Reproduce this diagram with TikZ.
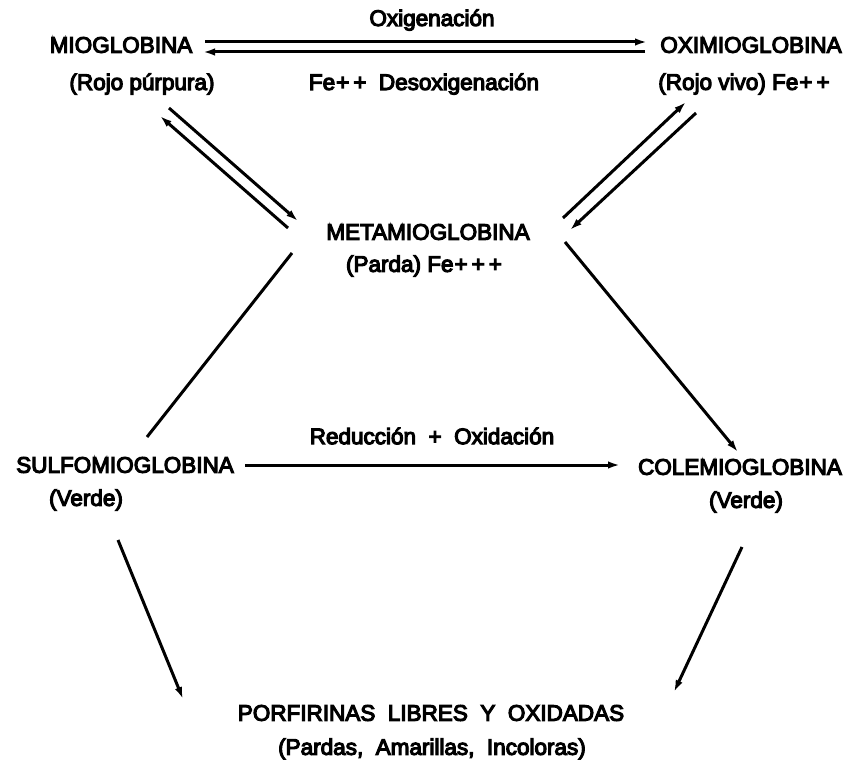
\documentclass[tikz,border=0pt]{standalone}
\usepackage{fontspec}
\setmainfont[FakeBold=5]{Liberation Sans}
\usetikzlibrary{arrows.meta}
\newcommand{\plusplus}{\kern1pt+\kern4pt+}
\newcommand{\plusplusplus}{\kern1pt+\kern4pt+\kern4pt+}
\tikzset{
  lbl/.style={inner sep=0pt, font=\fontsize{22.5}{26}\selectfont},
  conn/.style={line width=3pt},
  arr/.style={conn, -{Latex[length=12pt,width=7.5pt]}}
}
\begin{document}
\begin{tikzpicture}[x=1pt,y=-1pt]
\useasboundingbox[fill=white] (0,0) rectangle (852,760);
% labels
\node[lbl] (oxig) at (432,20) {Oxigenación};
\node[lbl] (mio) at (121,45) {MIOGLOBINA};
\node[lbl] (mioc) at (142,84) {(Rojo púrpura)};
\node[lbl] (oxi) at (751,45) {OXIMIOGLOBINA};
\node[lbl] (oxic) at (744,84) {(Rojo vivo) Fe\plusplus};
\node[lbl] (desox) at (424,84) {Fe\plusplus\ \ Desoxigenación};
\node[lbl] (meta) at (428,232) {METAMIOGLOBINA};
\node[lbl] (metac) at (424,266) {(Parda) Fe\plusplusplus};
\node[lbl] (red) at (432,436) {Reducción \ + \ Oxidación};
\node[lbl] (sulfo) at (125,465) {SULFOMIOGLOBINA};
\node[lbl] (sulfoc) at (86,500) {(Verde)};
\node[lbl] (cole) at (740,467) {COLEMIOGLOBINA};
\node[lbl] (colec) at (746,502) {(Verde)};
\node[lbl] (porf) at (431,713) {PORFIRINAS \ LIBRES \ Y \ OXIDADAS};
\node[lbl] (porfc) at (432,749) {(Pardas, \ Amarillas, \ Incoloras)};
% connector end points
\coordinate (t1a) at (205,42); \coordinate (t1b) at (647,42);
\coordinate (t2a) at (645,52); \coordinate (t2b) at (203,52);
\coordinate (la) at (169,108); \coordinate (lb) at (298,221);
\coordinate (lc) at (288,228); \coordinate (ld) at (160,116);
\coordinate (ra) at (563,218); \coordinate (rb) at (686,102);
\coordinate (rc) at (696,113); \coordinate (rd) at (570,230);
\coordinate (ms1) at (292,253); \coordinate (ms2) at (147,437);
\coordinate (mc1) at (565,242); \coordinate (mc2) at (738,452);
\coordinate (sc1) at (245,465); \coordinate (sc2) at (620,465);
\coordinate (sp1) at (118,540); \coordinate (sp2) at (183,699);
\coordinate (cp1) at (742,547); \coordinate (cp2) at (674,692);
% connectors
\draw[arr] (t1a) -- (t1b);
\draw[arr] (t2a) -- (t2b);
\draw[arr] (la) -- (lb);
\draw[arr] (lc) -- (ld);
\draw[arr] (ra) -- (rb);
\draw[arr] (rc) -- (rd);
\draw[conn] (ms1) -- (ms2);
\draw[arr] (mc1) -- (mc2);
\draw[arr] (sc1) -- (sc2);
\draw[arr] (sp1) -- (sp2);
\draw[arr] (cp1) -- (cp2);
\end{tikzpicture}
\end{document}
